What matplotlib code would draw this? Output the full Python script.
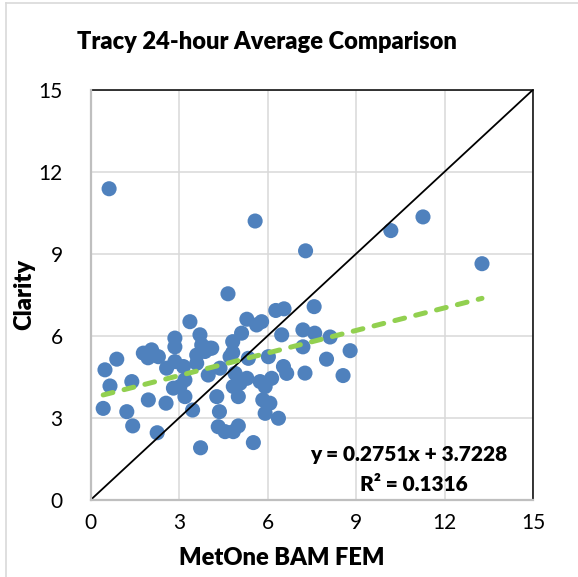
import matplotlib
matplotlib.use("Agg")
import matplotlib.pyplot as plt
from matplotlib.lines import Line2D

# MetOne BAM FEM (x) vs Clarity (y), 24-hour averages
bam = [0.63, 5.58, 7.29, 4.66, 10.18, 11.27, 13.27, 7.58, 7.20, 7.60,
       8.12, 8.80, 8.00, 7.27, 8.56, 7.20, 3.37, 6.28, 6.56, 5.30,
       5.80, 5.63, 5.12, 6.48, 3.71, 2.86, 4.82, 2.86, 3.77, 4.11,
       3.88, 1.79, 2.07, 2.30, 1.95, 0.89, 3.60, 2.86, 4.82, 5.35,
       6.03, 3.15, 2.58, 3.60, 0.49, 3.99, 4.39, 4.90, 3.20, 1.40,
       5.30, 5.75, 6.14, 6.54, 6.65, 0.66, 2.81, 3.03, 4.84, 5.07,
       5.92, 3.20, 4.28, 5.01, 1.96, 2.56, 5.84, 6.08, 0.43, 1.23,
       3.46, 4.37, 5.92, 6.37, 1.43, 4.33, 4.56, 4.84, 5.01, 2.26,
       5.52, 3.73, 4.73, 4.05]
clarity = [11.38, 10.20, 9.11, 7.54, 9.85, 10.35, 8.64, 7.07, 6.22, 6.10,
           5.96, 5.46, 5.15, 4.64, 4.55, 5.60, 6.52, 6.93, 6.99, 6.61,
           6.52, 6.40, 6.10, 6.04, 6.04, 5.92, 5.79, 5.60, 5.67, 5.55,
           5.43, 5.37, 5.49, 5.24, 5.20, 5.15, 5.30, 5.06, 5.39, 5.18,
           5.24, 4.88, 4.82, 5.00, 4.76, 4.57, 4.82, 4.63, 4.39, 4.33,
           4.45, 4.33, 4.45, 4.88, 4.63, 4.17, 4.09, 4.15, 4.15, 4.27,
           4.15, 3.78, 3.78, 3.78, 3.66, 3.54, 3.66, 3.54, 3.35, 3.23,
           3.29, 3.23, 3.17, 2.99, 2.71, 2.68, 2.50, 2.50, 2.71, 2.46,
           2.10, 1.91, 5.24, 5.55]

# linear trendline from the chart label
slope = 0.2751
intercept = 3.7228
r_squared = 0.1316

ticks = [0, 3, 6, 9, 12, 15]
fnt = "Lato"
bold = "heavy"

fig = plt.figure(figsize=(5.78, 5.77), dpi=100)
ax = fig.add_axes([0.1566, 0.1334, 0.7656, 0.7111])

ax.set_xlim(0, 15)
ax.set_ylim(0, 15)
ax.set_xticks(ticks)
ax.set_yticks(ticks)
ax.grid(True, color="#D9D9D9", linewidth=1.1)
ax.set_axisbelow(True)

ax.scatter(bam, clarity, s=118, color="#4F81BD", edgecolors="none", zorder=3)

# 1:1 line
ax.plot([0, 15], [0, 15], color="black", linewidth=1.3, zorder=4)

# trendline over the data range
x0, x1 = min(bam), max(bam)
ax.plot([x0, x1], [slope * x0 + intercept, slope * x1 + intercept],
        color="#92D050", linewidth=3.6, dashes=(2.0, 2.3),
        dash_capstyle="round", zorder=5)

ax.text(0.720, 0.110, f"y = {slope}x + {intercept}", transform=ax.transAxes,
        ha="center", va="center", fontsize=15, fontweight=bold,
        family=fnt, zorder=6)
ax.text(0.730, 0.039, f"R² = {r_squared}", transform=ax.transAxes,
        ha="center", va="center", fontsize=15, fontweight=bold,
        family=fnt, zorder=6)

for side in ["top", "right"]:
    ax.spines[side].set_color("black")
    ax.spines[side].set_linewidth(1.1)
for side in ["left", "bottom"]:
    ax.spines[side].set_color("#BFBFBF")
    ax.spines[side].set_linewidth(1.6)
    ax.spines[side].set_zorder(6)

ax.tick_params(length=0, labelsize=15)
ax.tick_params(axis="y", pad=20)
ax.tick_params(axis="x", pad=9)
for lab in ax.get_xticklabels() + ax.get_yticklabels():
    lab.set_family(fnt)

ax.set_xlabel("MetOne BAM FEM", fontsize=17, fontweight=bold, family=fnt)
ax.xaxis.label.set_va("center")
ax.xaxis.set_label_coords(0.433, -0.141)
ax.set_ylabel("Clarity", fontsize=17, fontweight=bold, family=fnt,
              labelpad=2)

fig.text(0.462, 0.927, "Tracy 24-hour Average Comparison", ha="center",
         va="center", fontsize=17, fontweight=bold, family=fnt)

# chart area border (only left and top visible in the crop)
fig.add_artist(Line2D([6 / 578, 6 / 578], [0, 1 - 3 / 577],
                      transform=fig.transFigure, color="#D9D9D9", linewidth=1.2))
fig.add_artist(Line2D([6 / 578, 1], [1 - 3 / 577, 1 - 3 / 577],
                      transform=fig.transFigure, color="#D9D9D9", linewidth=1.2))

fig.savefig("out.png", dpi=100)
